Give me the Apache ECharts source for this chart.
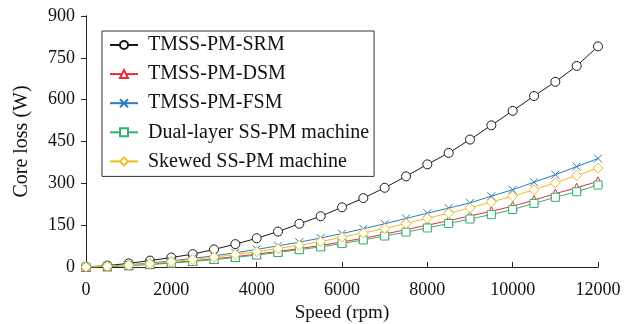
<!DOCTYPE html>
<html>
<head>
<meta charset="utf-8">
<script src="https://cdn.jsdelivr.net/npm/echarts@6/dist/echarts.min.js"></script>
<style>
  html, body { margin: 0; padding: 0; background: #fff; }
  #chart { width: 626px; height: 324px; }
</style>
</head>
<body>
<div id="chart"></div>
<script>
// Core loss versus speed for five machine topologies
const speeds = [0, 500, 1000, 1500, 2000, 2500, 3000, 3500, 4000, 4500, 5000, 5500, 6000,
  6500, 7000, 7500, 8000, 8500, 9000, 9500, 10000, 10500, 11000, 11500, 12000];

const srmLoss = [0, 5, 13, 23, 34, 46, 63, 82, 103, 127, 155, 182, 214, 247, 284, 325, 368,
  409, 457, 508, 560, 613, 664, 721, 791];
const dsmLoss = [0, 2, 6, 10, 16, 22, 29, 37, 46, 56, 66, 77, 90, 103, 118, 134, 150,
  166, 183, 200, 218, 240, 263, 284, 307];
const fsmLoss = [0, 3, 8, 14, 22, 31, 40, 51, 63, 76, 89, 104, 120, 137, 155, 174, 193,
  211, 230, 254, 277, 304, 331, 360, 389];
const dualLoss = [0, 2, 5, 9, 14, 20, 27, 34, 43, 52, 62, 72, 84, 97, 111, 125, 140,
  156, 172, 188, 206, 228, 250, 270, 294];
const skewLoss = [0, 3, 7, 12, 19, 27, 35, 45, 55, 66, 78, 91, 107, 122, 138, 156, 175,
  193, 212, 233, 254, 277, 302, 328, 355];

const seriesNames = ['TMSS-PM-SRM', 'TMSS-PM-DSM', 'TMSS-PM-FSM',
  'Dual-layer SS-PM machine', 'Skewed SS-PM machine'];

const yTicks = { min: 0, max: 900, step: 150 };
const xTicks = { min: 0, max: 12000, step: 2000 };

const FONT = 'Liberation Serif';
const crossPath = 'path://M0,0L10,10M10,0L0,10';

function pair(vals) {
  return speeds.map((s, i) => [s, vals[i]]);
}

function makeSeries(name, vals, color, symbol, size) {
  return {
    name: name,
    type: 'line',
    data: pair(vals),
    symbol: symbol,
    symbolSize: size,
    showAllSymbol: true,
    lineStyle: { color: color, width: 1 },
    itemStyle: { color: '#fff', borderColor: color, borderWidth: 1 },
    emphasis: { disabled: true },
    animation: false
  };
}

const plain = v => String(v);
const labelStyle = { fontFamily: FONT, fontSize: 18, color: '#111', fontWeight: 'normal' };

const chart = echarts.init(document.getElementById('chart'), null, { renderer: 'canvas' });

chart.setOption({
  backgroundColor: '#fff',
  animation: false,
  textStyle: { fontFamily: FONT, color: '#111' },
  grid: { left: 86, right: 28, top: 16, bottom: 57, containLabel: false, outerBoundsMode: 'none' },
  legend: {
    orient: 'vertical',
    left: 102,
    top: 31,
    padding: [4, 5, 5, 7],
    itemWidth: 28,
    itemHeight: 10,
    itemGap: 9.1,
    borderColor: '#333',
    borderWidth: 1,
    backgroundColor: '#fff',
    data: seriesNames,
    textStyle: { fontFamily: FONT, fontSize: 20, color: '#111', lineHeight: 20, padding: [0, 0, 0, 5] }
  },
  xAxis: [{
    type: 'value',
    min: xTicks.min, max: xTicks.max, interval: xTicks.step,
    name: 'Speed (rpm)',
    nameLocation: 'middle',
    nameGap: 34,
    nameTextStyle: { fontFamily: FONT, fontSize: 19, color: '#111' },
    axisLine: { show: true, lineStyle: { color: '#222', width: 1 } },
    axisTick: { show: true, inside: true, length: 5, lineStyle: { color: '#222' } },
    axisLabel: Object.assign({ margin: 14, formatter: plain }, labelStyle),
    splitLine: { show: false }
  }, {
    type: 'value', position: 'top',
    min: xTicks.min, max: xTicks.max, interval: xTicks.step,
    axisLine: { show: true, lineStyle: { color: '#222', width: 1 } },
    axisTick: { show: false }, axisLabel: { show: false }, splitLine: { show: false }
  }],
  yAxis: [{
    type: 'value',
    min: yTicks.min, max: yTicks.max, interval: yTicks.step,
    name: 'Core loss (W)',
    nameLocation: 'middle',
    nameGap: 54,
    nameTextStyle: { fontFamily: FONT, fontSize: 20, color: '#111' },
    axisLine: { show: true, lineStyle: { color: '#222', width: 1 } },
    axisTick: { show: false },
    axisLabel: Object.assign({ margin: 11, formatter: plain }, labelStyle),
    splitLine: { show: false }
  }, {
    type: 'value', position: 'right',
    min: yTicks.min, max: yTicks.max, interval: yTicks.step,
    axisLine: { show: true, lineStyle: { color: '#222', width: 1 } },
    axisTick: { show: true, inside: true, length: 5, lineStyle: { color: '#222' } },
    axisLabel: { show: false }, splitLine: { show: false }
  }],
  series: [
    makeSeries(seriesNames[0], srmLoss, '#1a1a1a', 'circle', 9),
    makeSeries(seriesNames[1], dsmLoss, '#e52d33', 'triangle', 9),
    makeSeries(seriesNames[2], fsmLoss, '#2a7cc0', crossPath, 8),
    makeSeries(seriesNames[3], dualLoss, '#34b06f', 'rect', 8),
    makeSeries(seriesNames[4], skewLoss, '#f4bb1c', 'diamond', 10)
  ]
});
</script>
</body>
</html>
